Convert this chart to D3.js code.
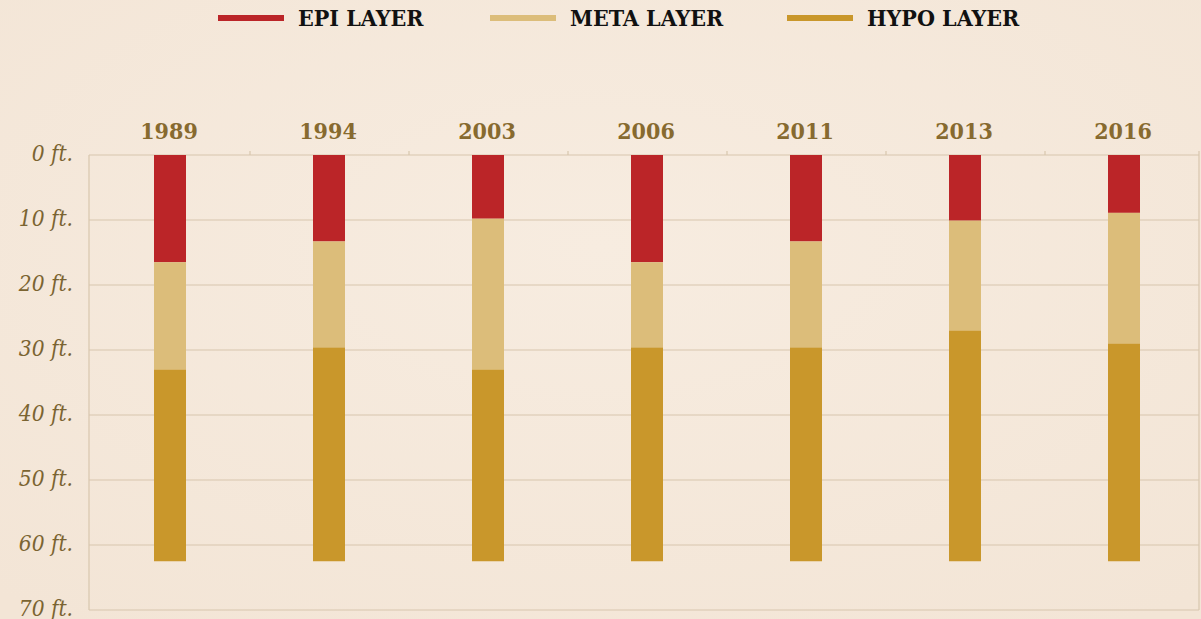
<!DOCTYPE html>
<html>
<head>
<meta charset="utf-8">
<script src="https://cdn.jsdelivr.net/npm/d3@7"></script>
<style>
  html, body { margin:0; padding:0; background:#f5e8da; }
  svg { display:block; }
  .yr { font-family:"DejaVu Serif Condensed","DejaVu Serif",serif; font-weight:bold; font-stretch:condensed; }
  .ft { font-family:"DejaVu Serif Condensed","DejaVu Serif",serif; font-style:italic; font-stretch:condensed; }
</style>
</head>
<body>
<svg id="chart" width="1201" height="619"></svg>
<script>
// data: depth (ft) of the bottom of each layer
var years = ["1989","1994","2003","2006","2011","2013","2016"]
var epiBottom  = [16.5, 13.3, 9.8, 16.5, 13.3, 10.1, 8.9]
var metaBottom = [33.0, 29.6, 33.0, 29.6, 29.6, 27.0, 29.0]
var hypoBottom = [62.5, 62.5, 62.5, 62.5, 62.5, 62.5, 62.5]
var layerNames = ["EPI LAYER","META LAYER","HYPO LAYER"]
var layerColors = ["#bb2528","#dcbd7a","#c9972b"]
var depthTicks = [0,10,20,30,40,50,60,70]

var svg = d3.select("#chart")

// background wash
var defs = svg.append("defs")
var grad = defs.append("radialGradient").attr("id","paper").attr("cx","50%").attr("cy","40%").attr("r","75%")
grad.append("stop").attr("offset","0%").attr("stop-color","#f7ece0")
grad.append("stop").attr("offset","100%").attr("stop-color","#f3e5d6")
svg.append("rect").attr("width",1201).attr("height",619).attr("fill","url(#paper)")

var x = d3.scaleBand().domain(years).range([90.5,1203.5]).padding(0)
var y = d3.scaleLinear().domain([0,70]).range([155,610])
var left = 89, right = 1199
var barW = 32
var gridCol = "#d8c6ae"

// gridlines
svg.append("g").selectAll("line.grid")
  .data(depthTicks)
  .enter().append("line")
  .attr("class","grid")
  .attr("x1",left).attr("x2",right)
  .attr("y1",function(d){ return y(d) }).attr("y2",function(d){ return y(d) })
  .attr("stroke",gridCol).attr("stroke-width",1.2)

// frame sides
svg.append("line").attr("x1",left).attr("x2",left).attr("y1",y(0)).attr("y2",y(70))
  .attr("stroke",gridCol).attr("stroke-width",1.2)
svg.append("line").attr("x1",right).attr("x2",right).attr("y1",y(0)-4).attr("y2",y(70))
  .attr("stroke",gridCol).attr("stroke-width",1.2)

// small ticks between years
svg.append("g").selectAll("line.sep")
  .data(years.slice(1))
  .enter().append("line")
  .attr("x1",function(d){ return Math.round(x(d)) }).attr("x2",function(d){ return Math.round(x(d)) })
  .attr("y1",y(0)-4).attr("y2",y(0))
  .attr("stroke",gridCol).attr("stroke-width",1.2)

// y labels
svg.append("g").selectAll("text")
  .data(depthTicks)
  .enter().append("text")
  .attr("class","ft")
  .attr("x",73).attr("y",function(d){ return y(d)+6 })
  .attr("text-anchor","end")
  .attr("font-size",22.5)
  .attr("fill","#7b6431")
  .text(function(d){ return d + " ft." })

// year labels
svg.append("g").selectAll("text")
  .data(years)
  .enter().append("text")
  .attr("class","yr")
  .attr("x",function(d){ return x(d)+x.bandwidth()/2 - 1 })
  .attr("y",139)
  .attr("text-anchor","middle")
  .attr("font-size",23)
  .attr("fill","#876a2f")
  .text(function(d){ return d })

// stacked segments
var segs = []
years.forEach(function(yr,i){
  var tops = [0, epiBottom[i], metaBottom[i]]
  var bots = [epiBottom[i], metaBottom[i], hypoBottom[i]]
  for(var k=0;k<3;k++) segs.push({year:yr, top:tops[k], bottom:bots[k], layer:k})
})

svg.append("g").selectAll("rect.seg")
  .data(segs)
  .enter().append("rect")
  .attr("class","seg")
  .attr("x",function(d){ return Math.round(x(d.year)+x.bandwidth()/2-barW/2) })
  .attr("width",barW)
  .attr("y",function(d){ return y(d.top) })
  .attr("height",function(d){ return y(d.bottom)-y(d.top) })
  .attr("fill",function(d){ return layerColors[d.layer] })

// legend
var legendX = [218, 490, 787]
var lg = svg.append("g").selectAll("g.leg")
  .data(layerNames)
  .enter().append("g")
  .attr("transform",function(d,i){ return "translate(" + legendX[i] + ",0)" })
lg.append("rect").attr("x",0).attr("y",15).attr("width",66).attr("height",6)
  .attr("fill",function(d,i){ return layerColors[i] })
lg.append("text")
  .attr("class","yr")
  .attr("x",80).attr("y",26)
  .attr("font-size",23)
  .attr("fill","#111")
  .text(function(d){ return d })
</script>
</body>
</html>
